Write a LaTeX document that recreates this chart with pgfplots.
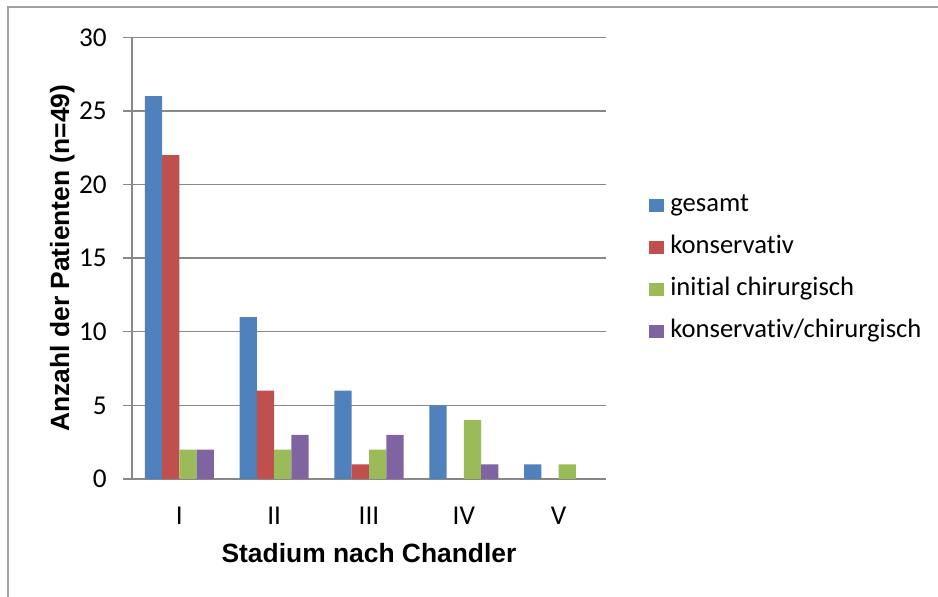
\documentclass[border=0pt]{standalone}
\usepackage{fontspec}
\setmainfont{Carlito}[Ligatures=NoCommon]
\newfontfamily\arialfont{Liberation Sans}
\usepackage{pgfplots}
\pgfplotsset{compat=1.18}
\definecolor{cBlue}{HTML}{4F81BD}
\definecolor{cRed}{HTML}{C0504D}
\definecolor{cGreen}{HTML}{9BBB59}
\definecolor{cPurple}{HTML}{8064A2}
\definecolor{gridc}{HTML}{888888}
\begin{document}
\begin{tikzpicture}
\begin{axis}[
  at={(66pt,59pt)}, anchor=south west,
  scale only axis, width=237pt, height=220.85pt,
  ybar=0pt, bar width=0.182,
  xmin=-0.5, xmax=4.5, ymin=0, ymax=30,
  xtick={0,1,2,3,4}, xticklabels={I,II,III,IV,V},
  ytick={0,5,10,15,20,25,30},
  ymajorgrids, major grid style={gridc, line width=0.7pt},
  axis lines*=left,
  axis line style={gridc, line width=0.7pt},
  xtick style={draw=none},
  ytick style={gridc, line width=0.7pt},
  tick align=outside, major tick length=4.5pt,
  /pgf/number format/assume math mode=true,
  tick label style={font=\fontsize{13.6}{15}\selectfont},
  yticklabel style={inner sep=0pt, anchor=east, xshift=-8pt},
  xticklabel style={inner sep=0pt, anchor=north, yshift=-9.5pt},
  xlabel={Stadium nach Chandler},
  ylabel={Anzahl der Patienten (n=49)},
  label style={font=\arialfont\bfseries\fontsize{13.2}{15}\selectfont, inner sep=0pt},
  xlabel style={at={(axis description cs:0.5,0)}, anchor=north, yshift=-32pt},
  ylabel style={at={(axis description cs:0,0.5)}, anchor=south, yshift=28.5pt},
  legend image code/.code={\fill[#1] (0pt,-3.2pt) rectangle (7.5pt,3.2pt);},
  legend style={at={(axis description cs:1.0907,0.6475)}, anchor=north west,
    draw=none, fill=none, inner sep=0pt, row sep=9pt,
    font=\fontsize{13.3}{15}\selectfont,
    nodes={inner sep=0pt, text height=9pt, text depth=3pt},
    /tikz/every odd column/.append style={column sep=3pt}},
  legend cell align=left,
]
\addplot[fill=cBlue, draw=none] coordinates {(0,26) (1,11) (2,6) (3,5) (4,1)};
\addplot[fill=cRed, draw=none] coordinates {(0,22) (1,6) (2,1) (3,0) (4,0)};
\addplot[fill=cGreen, draw=none] coordinates {(0,2) (1,2) (2,2) (3,4) (4,1)};
\addplot[fill=cPurple, draw=none] coordinates {(0,2) (1,3) (2,3) (3,1) (4,0)};
\legend{gesamt, konservativ, initial chirurgisch, konservativ/chirurgisch}
\end{axis}
\draw[gridc!80, line width=0.8pt] (4pt,-2pt) -- (4pt,295pt) -- (472pt,295pt);
\pgfresetboundingbox
\useasboundingbox (0,0) rectangle (469pt,298.5pt);
\end{tikzpicture}
\end{document}
